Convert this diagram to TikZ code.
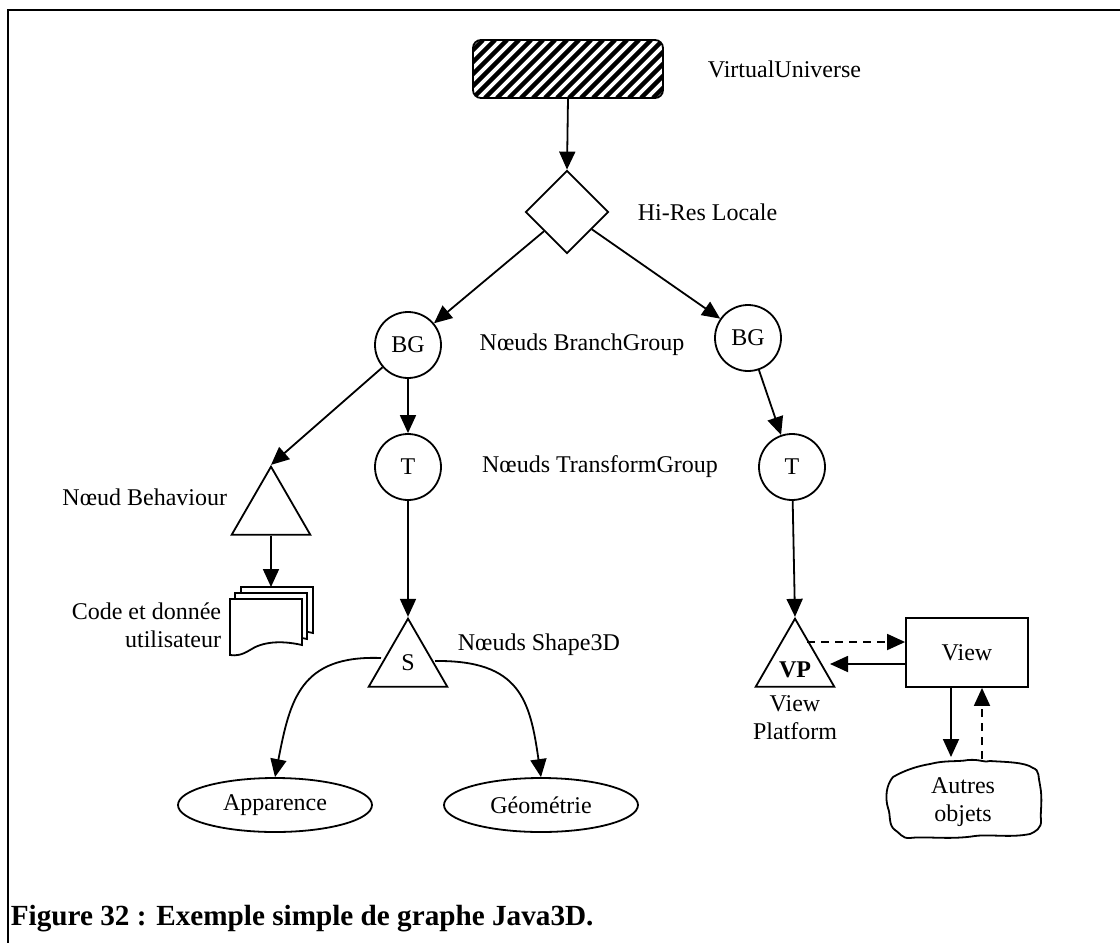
\documentclass[tikz,border=0pt]{standalone}
\usepackage{fontspec}
\setmainfont{Liberation Serif}
\usetikzlibrary{calc, positioning}
\usetikzlibrary{arrows.meta}
\usetikzlibrary{shapes.geometric}

\tikzset{
  lbl/.style={inner sep=0pt, font=\fontsize{12}{14}\selectfont},
  arr/.style={-{Triangle[length=9pt,width=8pt]}, line width=0.9pt},
  darr/.style={arr, dashed, dash pattern=on 4pt off 3pt},
  grpnode/.style={draw, circle, line width=0.9pt, minimum size=33pt, inner sep=0pt,
    font=\fontsize{12}{14}\selectfont},
  leafnode/.style={draw, isosceles triangle, isosceles triangle apex angle=60,
    shape border rotate=90, line width=0.9pt, minimum height=34pt, inner sep=0pt,
    font=\fontsize{12}{14}\selectfont},
}

\begin{document}
\begin{tikzpicture}[x=0.5pt, y=-0.5pt, line width=0.9pt]
\useasboundingbox (0,0) rectangle (1120,943);

% cadre
\draw[line width=1pt] (1120,10) -- (8,10) -- (8,943);

% racine
\begin{scope}
  \clip[rounded corners=4pt] (473,40) rectangle (663,98);
  \foreach \k in {0,...,22} {
    \draw[line width=2.2pt] (413+12*\k,98) -- (413+12*\k+58,40);
  }
\end{scope}
\draw[rounded corners=4pt] (473,40) rectangle (663,98);
\coordinate (vu) at (568,98);
\node[lbl, anchor=west] (vulbl) at (707,69) {VirtualUniverse};

\node[draw, diamond, minimum size=41.5pt, inner sep=0pt] (locale) at (567,212) {};
\node[lbl, anchor=west] (localelbl) at (637,212) {Hi-Res Locale};

% groupes
\node[grpnode] (bgl) at (408,345) {BG};
\node[grpnode] (bgr) at (748,338) {BG};
\node[lbl] (bglbl) at (582,345) {Nœuds BranchGroup};

\node[grpnode] (tl) at (408,467) {T};
\node[grpnode] (tr) at (792,467) {T};
\node[lbl] (tlbl) at (600,467) {Nœuds TransformGroup};

% feuilles
\node[leafnode] (beh) at (271,512) {};
\node[lbl, anchor=east] (behlbl) at (228,497) {Nœud Behaviour};

\node[leafnode] (shp) at (408,664) {};
\node[lbl] at (408,663) {S};
\node[lbl, anchor=west] (shplbl) at (457,645) {Nœuds Shape3D};

\node[leafnode] (vp) at (795,664) {};
\node[lbl, font=\fontsize{12}{14}\selectfont\bfseries] at (795,670) {VP};
\node[lbl, align=center] (vplbl) at (795,718) {View\\Platform};

% pile de documents
\foreach \dx/\dy in {11/-12, 5/-6, 0/0} {
  \draw[fill=white, shift={(\dx,\dy)}]
    (230,599) -- (302,599) -- (302,645)
    .. controls (280,640) and (262,642) .. (250,650)
    .. controls (242,655) and (236,656) .. (230,655) -- cycle;
}
\coordinate (doc) at (271,587);
\node[lbl, align=right, anchor=east] (doclbl) at (222,625) {Code et donnée\\utilisateur};

% ellipses
\node[draw, ellipse, minimum width=97pt, minimum height=27pt, inner sep=0pt, lbl]
  (app) at (275,805) {Apparence};
\node[draw, ellipse, minimum width=97pt, minimum height=27pt, inner sep=0pt, lbl]
  (geo) at (541,805) {Géométrie};

% vue
\node[draw, minimum width=61pt, minimum height=34.5pt, inner sep=0pt, lbl]
  (view) at (967,652.5) {View};

% nuage
\draw (893,777) .. controls (905,770) and (918,766) .. (930,764)
  .. controls (945,760) and (958,762) .. (968,760)
  .. controls (980,759) and (985,763) .. (990,761)
  .. controls (1005,762) and (1025,762) .. (1033,768)
  .. controls (1040,770) and (1038,778) .. (1040,785)
  .. controls (1043,800) and (1040,812) .. (1041,820)
  .. controls (1042,828) and (1035,832) .. (1030,834)
  .. controls (1010,838) and (990,834) .. (975,836)
  .. controls (950,840) and (925,836) .. (910,838)
  .. controls (902,839) and (899,832) .. (895,830)
  .. controls (888,825) and (891,815) .. (888,808)
  .. controls (885,798) and (886,785) .. (893,777) -- cycle;
\node[lbl, align=center] (autres) at (963,802) {Autres\\objets};

% liaisons
\draw[arr] (vu) -- (locale.north);
\draw[arr] (locale) -- (bgl);
\draw[arr] (locale) -- (bgr);
\draw[arr] (bgl) -- (beh.apex);
\draw[arr] (bgl) -- (tl);
\draw[arr] (bgr) -- (tr);
\draw[arr] (beh.south) -- (doc);
\draw[arr] (tl) -- (shp.apex);
\draw[arr] (tr) -- (vp.apex);
\draw[arr] (381,658) .. controls (300,655) and (290,700) .. (app.north);
\draw[arr] (435,661) .. controls (520,660) and (530,700) .. (geo.north);
\draw[darr] (807,642) -- (view.west |- 807,642);
\draw[arr] (view.west |- 0,664) -- (830,664);
\draw[arr] (view.south -| 951,0) -- (951,757);
\draw[darr] (982,759) -- (view.south -| 982,0);

% legende
\node[anchor=west, inner sep=0pt, font=\fontsize{14.6}{16}\selectfont\bfseries]
  (caption) at (10,919) {Figure 32 : Exemple simple de graphe Java3D.};
\end{tikzpicture}
\end{document}
